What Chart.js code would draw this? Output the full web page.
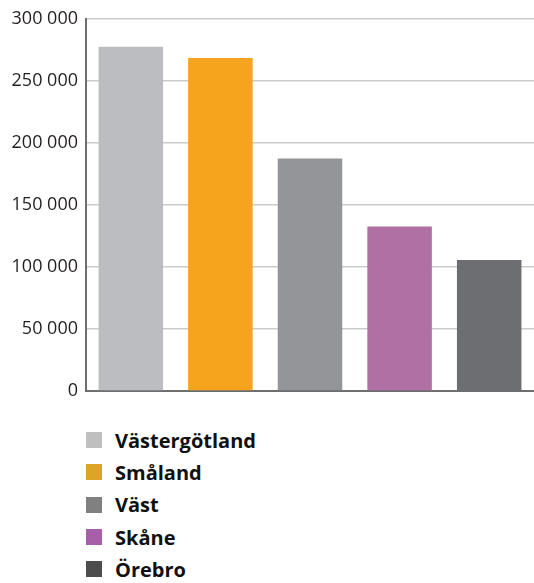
<!DOCTYPE html>
<html>
<head>
<meta charset="utf-8">
<script src="https://cdn.jsdelivr.net/npm/chart.js@4/dist/chart.umd.min.js"></script>
<style>
  html, body { margin: 0; padding: 0; background: #fff; }
  #wrap { position: relative; width: 534px; height: 410px; }
  #legend { position: absolute; left: 86px; top: 424px; margin: 0; padding: 0; list-style: none;
    font-family: "Open Sans", sans-serif; font-weight: bold; font-size: 20px; color: #111; }
  #legend li { height: 32.3px; display: flex; align-items: center; }
  #legend span.box { width: 16px; height: 16px; display: inline-block; margin-right: 13px; }
</style>
</head>
<body>
<div id="wrap"><canvas id="c" width="534" height="410"></canvas></div>
<ul id="legend"></ul>
<script>
const categories = ["Västergötland", "Småland", "Väst", "Skåne", "Örebro"];
const values = [277500, 268500, 187500, 132500, 105500];
const barColors = ["#bcbdc0", "#f6a41e", "#939598", "#b070a4", "#6d6e71"];
const legendColors = ["#bfbfbf", "#dba628", "#808080", "#a65fa8", "#4d4d4d"];
const yTicks = [0, 50000, 100000, 150000, 200000, 250000, 300000];

function fmt(v) { return String(v).replace(/\B(?=(\d{3})+(?!\d))/g, " "); }

new Chart(document.getElementById("c"), {
  type: "bar",
  data: {
    labels: categories,
    datasets: [{ data: values, backgroundColor: barColors, barPercentage: 0.72, categoryPercentage: 1.0 }]
  },
  options: {
    responsive: false,
    animation: false,
    layout: { padding: { top: 14, bottom: 19, right: -3, left: 0 } },
    plugins: { legend: { display: false }, tooltip: { enabled: false } },
    scales: {
      x: {
        ticks: { display: false },
        grid: { display: false, drawTicks: false },
        border: { display: true, color: "#6d6e70", width: 2 },
        afterFit: s => { s.height = 0; }
      },
      y: {
        min: 0, max: 300000,
        afterBuildTicks: s => { s.ticks = yTicks.map(v => ({ value: v })); },
        ticks: { padding: 8, color: "#231f20", font: { family: "Open Sans", size: 18 }, callback: v => fmt(v) },
        grid: { color: "#cbcbcb", lineWidth: 1.5, drawTicks: false },
        border: { display: true, color: "#6d6e70", width: 2 },
        afterFit: s => { s.width = 86; }
      }
    }
  }
});

const ul = document.getElementById("legend");
categories.forEach((c, i) => {
  const li = document.createElement("li");
  const b = document.createElement("span");
  b.className = "box"; b.style.background = legendColors[i];
  li.appendChild(b);
  li.appendChild(document.createTextNode(c));
  ul.appendChild(li);
});
</script>
</body>
</html>
